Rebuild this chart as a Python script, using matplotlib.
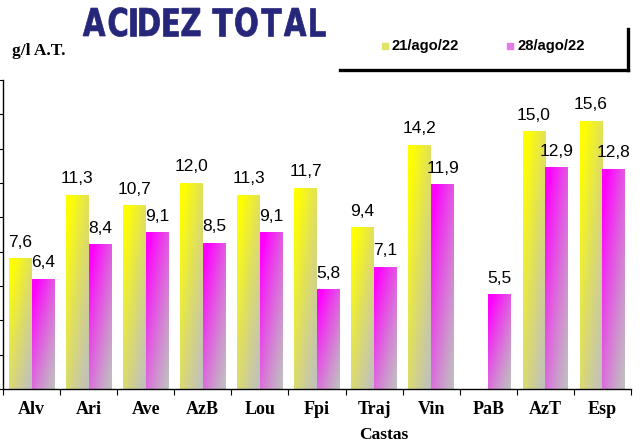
import numpy as np
import matplotlib
matplotlib.use("Agg")
import matplotlib.pyplot as plt
from matplotlib.colors import to_rgb
from matplotlib.lines import Line2D
from matplotlib.textpath import TextPath
from matplotlib.patches import PathPatch
from matplotlib.font_manager import FontProperties
from matplotlib.transforms import Affine2D

castas = ["Alv", "Ari", "Ave", "AzB", "Lou", "Fpi", "Traj", "Vin", "PaB", "AzT", "Esp"]
dia21 = [7.6, 11.3, 10.7, 12.0, 11.3, 11.7, 9.4, 14.2, np.nan, 15.0, 15.6]
dia28 = [6.4, 8.4, 9.1, 8.5, 9.1, 5.8, 7.1, 11.9, 5.5, 12.9, 12.8]
series_names = ["21/ago/22", "28/ago/22"]
titulo = "ACIDEZ TOTAL"

cor_am = "#ffff00"
cor_mg = "#ff00ff"
cinza = "#c0c0c0"

W, H = 642, 443


def gradiente(cor, n=40):
    c = np.array(to_rgb(cor))
    g = np.array(to_rgb(cinza))
    u = np.linspace(0, 1, n)[None, :]
    v = np.linspace(1, 0, n)[:, None]
    w = np.clip(0.5 * (1 - u) + 0.6 * v, 0, 1)[..., None] ** 1.2
    return g + w * (c - g)


fig = plt.figure(figsize=(W / 100, H / 100), dpi=100)
ax = fig.add_axes([3 / W, 1 - 389 / H, 628 / W, 309 / H])

x = np.arange(len(castas))
larg = 0.4
for serie, cor, desl in [(dia21, cor_am, -0.2), (dia28, cor_mg, 0.2)]:
    img = gradiente(cor)
    for xi, val in zip(x, serie):
        if np.isnan(val):
            continue
        ax.imshow(img, extent=[xi + desl - larg / 2, xi + desl + larg / 2, 0, val],
                  aspect="auto", interpolation="bilinear", zorder=2)
        ax.annotate(f"{val:.1f}".replace(".", ","), (xi + desl, val),
                    xytext=(0, 8.5), textcoords="offset points",
                    ha="center", va="baseline", fontsize=12.5,
                    family="Liberation Sans", color="black")

ax.set_xlim(-0.5, len(castas) - 0.5)
ax.set_ylim(0, 18)
ax.set_yticks(np.arange(0, 19, 2))
ax.set_yticklabels([])
ax.tick_params(axis="y", direction="out", length=3, width=0.8)
ax.set_xticks(np.arange(-0.5, len(castas), 1))
ax.set_xticklabels([])
ax.tick_params(axis="x", which="major", direction="out", length=4, width=0.8)
ax.set_xticks(x, minor=True)
ax.set_xticklabels(castas, minor=True, fontsize=13, fontweight="bold",
                   family="Liberation Serif")
ax.tick_params(axis="x", which="minor", length=0, pad=9)
for s in ["top", "right"]:
    ax.spines[s].set_visible(False)
for s in ["left", "bottom"]:
    ax.spines[s].set_linewidth(1.0)

fig.text(384 / W, 1 - 435 / H, "Castas", ha="center", va="center",
         fontsize=12.5, fontweight="bold", family="Liberation Serif")

# titulo: letra a letra, comprimida e espacada
fp = FontProperties(family="DejaVu Sans", weight="bold")
glifos = [TextPath((0, 0), ch, size=40, prop=fp) if ch != " " else None for ch in titulo]
esp, vao = 12, 3.5
larguras = [g.get_extents().width for g in glifos if g is not None]
altura = max(g.get_extents().height for g in glifos if g is not None)
n_vaos = len(titulo) - 1 - 2
sx = (242 - esp - vao * n_vaos) / sum(larguras)
sy = 29 / altura
xc = 83
for g in glifos:
    if g is None:
        xc += esp - vao
        continue
    e = g.get_extents()
    tr = Affine2D().translate(-e.x0, 0).scale(sx, sy).translate(xc, H - 36)
    fig.patches.append(PathPatch(g, transform=tr, facecolor="#26267a",
                                 edgecolor="#26267a", lw=0.5, figure=fig))
    xc += e.width * sx + vao

fig.text(12 / W, 1 - 55 / H, "g/l A.T.", ha="left", va="baseline",
         fontsize=12.5, fontweight="bold", family="Liberation Serif")

# legenda
fig.add_artist(Line2D([340 / W, 628 / W], [1 - 70 / H, 1 - 70 / H],
                      color="black", lw=2.4, transform=fig.transFigure))
fig.add_artist(Line2D([628 / W, 628 / W], [1 - 29 / H, 1 - 70 / H],
                      color="black", lw=2.4, transform=fig.transFigure))
for nome, cor, xm in [(series_names[0], "#e2e266", 385), (series_names[1], "#e67ae6", 510)]:
    fig.patches.append(plt.Rectangle(((xm - 3) / W, 1 - 49 / H), 6 / W, 6 / H,
                                     transform=fig.transFigure, color=cor, figure=fig))
    fig.text((xm + 7) / W, 1 - 46 / H, nome, ha="left", va="center",
             fontsize=10.6, fontweight="bold", family="Liberation Sans")

fig.savefig("out.png", dpi=100)
